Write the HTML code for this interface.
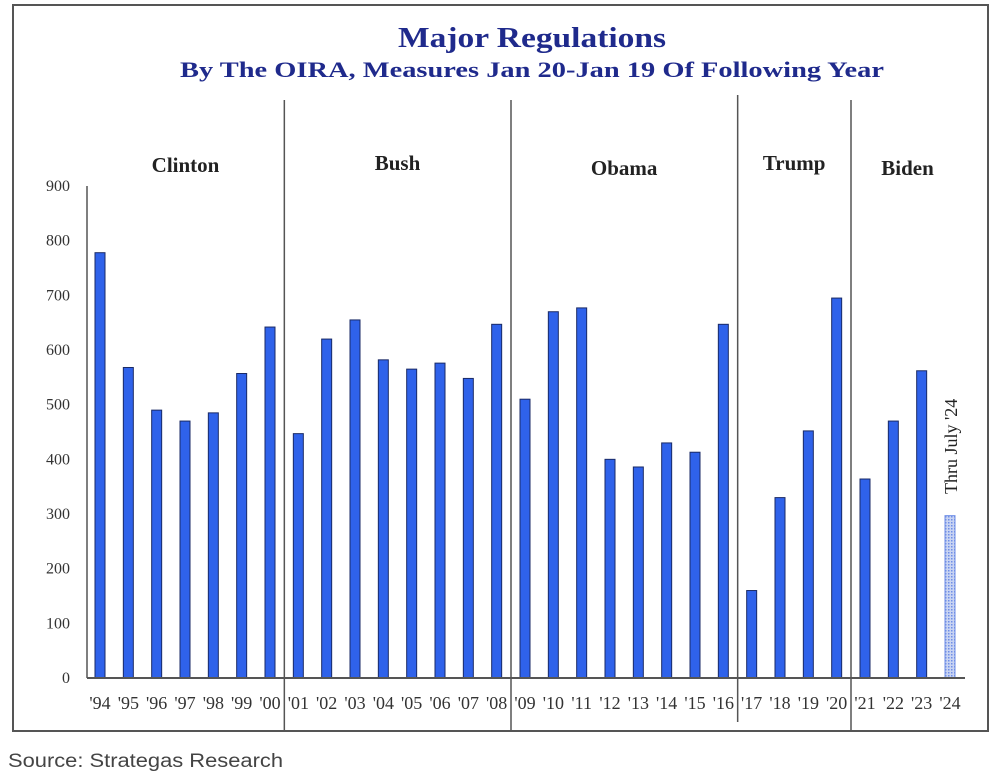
<!DOCTYPE html>
<html><head><meta charset="utf-8"><style>
html,body{margin:0;padding:0;background:#fff;width:996px;height:775px;overflow:hidden}
svg{display:block}
</style></head><body>
<svg width="996" height="775" viewBox="0 0 996 775">
<defs>
<pattern id="hatch" width="3" height="3" patternUnits="userSpaceOnUse"><rect width="3" height="3" fill="#c9d4f2"/><rect width="1.5" height="1.5" fill="#6f8ee6"/></pattern>
</defs>
<rect x="13" y="5" width="975" height="726" fill="#fff" stroke="#555" stroke-width="2"/>
<text x="398" y="47" textLength="268" lengthAdjust="spacingAndGlyphs" font-family="Liberation Serif, serif" font-weight="bold" font-size="28" fill="#1f2a8c">Major Regulations</text>
<text x="180" y="77" textLength="704" lengthAdjust="spacingAndGlyphs" font-family="Liberation Serif, serif" font-weight="bold" font-size="22" fill="#1f2a8c">By The OIRA, Measures Jan 20-Jan 19 Of Following Year</text>
<g id="yaxis"></g>
<g id="dividers"></g>
<g id="bars"></g>
<g id="xlabels"></g>
<line x1="87" y1="678" x2="965" y2="678" stroke="#555" stroke-width="2"/>
<line x1="87" y1="186" x2="87" y2="678" stroke="#555" stroke-width="1.5"/>
<text transform="translate(957,494) rotate(-90)" font-family="Liberation Serif, serif" font-size="18" fill="#222">Thru July '24</text>
<text x="8" y="767" textLength="275" lengthAdjust="spacingAndGlyphs" font-family="Liberation Sans, sans-serif" font-size="19" fill="#444">Source: Strategas Research</text>
</svg>
<script>
const years=["'94","'95","'96","'97","'98","'99","'00","'01","'02","'03","'04","'05","'06","'07","'08","'09","'10","'11","'12","'13","'14","'15","'16","'17","'18","'19","'20","'21","'22","'23","'24"];
const values=[778,568,490,470,485,557,642,447,620,655,582,565,576,548,647,510,670,677,400,386,430,413,647,160,330,452,695,364,470,562,297];
const yTicks=[0,100,200,300,400,500,600,700,800,900];
const presidents=["Clinton","Bush","Obama","Trump","Biden"];
const presStart=[0,7,15,23,27];
const presEnd=[6,14,22,26,30];
const NS="http://www.w3.org/2000/svg";
function y(v){return 678-v*(678-186)/900;}
function x(i){return 100+i*(950-100)/30;}
function mk(tag,attrs,parent,txt){const e=document.createElementNS(NS,tag);for(const k in attrs)e.setAttribute(k,attrs[k]);if(txt!==undefined)e.textContent=txt;parent.appendChild(e);return e;}
const ya=document.getElementById('yaxis');
yTicks.forEach(t=>{const e=mk('text',{x:70,y:y(t)+5,'text-anchor':'end','font-family':'Liberation Serif, serif','font-size':'16',fill:'#333'},ya,String(t));

});
const bg=document.getElementById('bars');
values.forEach((v,i)=>{const last=i===values.length-1;const r=mk('rect',{x:x(i)-5,y:y(v),width:10,height:678-y(v),fill:last?'url(#hatch)':'#2f62ea',stroke:last?'#6f8ee6':'#1a2a66','stroke-width':1},bg);

});
const xl=document.getElementById('xlabels');
years.forEach((yr,i)=>{const e=mk('text',{x:x(i),y:709,'text-anchor':'middle','font-family':'Liberation Serif, serif','font-size':'18',fill:'#333'},xl,yr);

});
const dv=document.getElementById('dividers');
const labelY=[172,170,175,170,175];
presidents.forEach((p,k)=>{const l=x(presStart[k])-14, r=x(presEnd[k])+14;
if(k>0){const ln=mk('line',{x1:l,y1:k==3?95:100,x2:l,y2:k==3?722:731,stroke:'#555','stroke-width':1.5},dv);

}
const t=mk('text',{x:(Math.max(l,87)+r)/2,y:labelY[k],'text-anchor':'middle','font-family':'Liberation Serif, serif','font-weight':'bold','font-size':'21',fill:'#222'},dv,p);

});
</script>
</body></html>
